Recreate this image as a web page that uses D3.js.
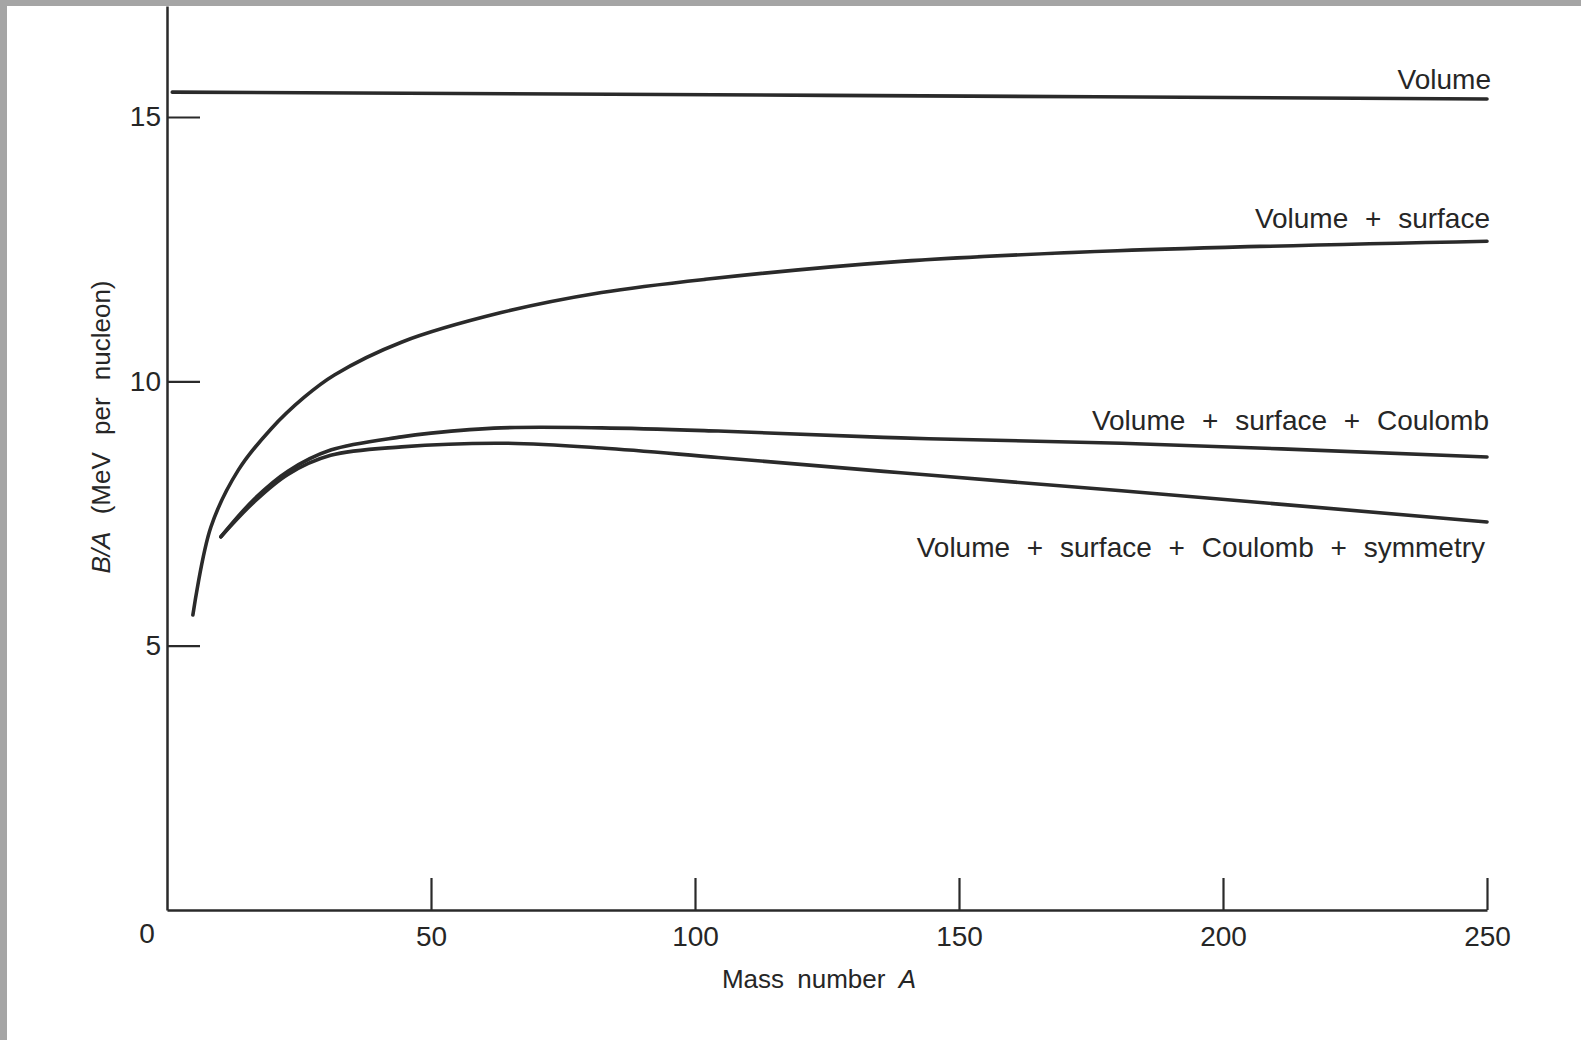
<!DOCTYPE html>
<html><head><meta charset="utf-8">
<script src="https://cdn.jsdelivr.net/npm/d3@7"></script>
<style>
body{margin:0;background:#fff;}
svg{display:block;}
text{font-family:"Liberation Sans",Arial,sans-serif;fill:#262626;}
</style></head><body>
<svg id="chart" width="1581" height="1040"></svg>
<script>
// ---- data ----
const xTickValues = [50, 100, 150, 200, 250];
const yTickValues = [5, 10, 15];

const volumeA = [1, 125, 250];
const volumeB = [15.47, 15.41, 15.34];

const surfaceA = [4.9, 8.3, 13.5, 19.7, 26, 31.7, 44.4, 63.3, 82.3, 102, 139, 180, 250];
const surfaceB = [5.58, 7.24, 8.32, 9.1, 9.7, 10.12, 10.74, 11.3, 11.68, 11.93, 12.27, 12.47, 12.65];

const coulombA = [10.2, 16.5, 22.9, 31, 44.4, 50, 63.3, 82.3, 104.4, 139, 180.8, 250];
const coulombB = [7.06, 7.77, 8.3, 8.7, 8.95, 9.02, 9.12, 9.12, 9.06, 8.93, 8.83, 8.57];

const symmetryA = [10.2, 16.5, 22.9, 31, 44.4, 63.3, 82.3, 104.4, 139, 180.8, 250];
const symmetryB = [7.06, 7.72, 8.24, 8.6, 8.76, 8.83, 8.74, 8.56, 8.27, 7.93, 7.34];

const seriesLabels = [
  "Volume",
  "Volume + surface",
  "Volume + surface + Coulomb",
  "Volume + surface + Coulomb + symmetry"
];
const xTitle = "Mass number ";
const xTitleItalic = "A";
const yTitleItalic = "B/A";
const yTitle = " (MeV per nucleon)";

// ---- drawing ----
const svg = d3.select("#chart");
svg.append("rect").attr("width", 1581).attr("height", 1040).attr("fill", "#fff");

const x = d3.scaleLinear().domain([0, 250]).range([167, 1487]);
const y = d3.scaleLinear().domain([0, 17.1]).range([910, 6]);

const ink = "#2a2a2a";

// axes
const xAxis = d3.axisBottom(x).tickValues(xTickValues).tickSizeInner(-32).tickSizeOuter(0).tickPadding(16);
const gx = svg.append("g").attr("transform", `translate(0,${y(0)})`).call(xAxis);
const yAxis = d3.axisLeft(y).tickValues(yTickValues).tickSizeInner(-33).tickSizeOuter(0).tickPadding(6);
const gy = svg.append("g").attr("transform", `translate(${x(0)},0)`).call(yAxis);

[gx, gy].forEach(g => {
  g.select(".domain").attr("stroke", ink).attr("stroke-width", 2.5);
  g.selectAll(".tick line").attr("stroke", ink).attr("stroke-width", 2.2);
  g.selectAll(".tick text").attr("font-size", 28).attr("fill", "#262626");
});

// origin label
svg.append("text").attr("x", x(0) - 20).attr("y", y(0) + 33)
  .attr("text-anchor", "middle").attr("font-size", 28).text("0");

// curves
const line = d3.line().x(d => x(d[0])).y(d => y(d[1])).curve(d3.curveCatmullRom.alpha(0.5));
const series = [
  d3.zip(volumeA, volumeB),
  d3.zip(surfaceA, surfaceB),
  d3.zip(coulombA, coulombB),
  d3.zip(symmetryA, symmetryB)
];
svg.append("g").selectAll("path").data(series).join("path")
  .attr("d", line).attr("fill", "none").attr("stroke", ink)
  .attr("stroke-width", 3.6).attr("stroke-linecap", "round");

// series labels (offsets from each curve's end)
const labelDy = [-10, -13, -27, 35];
const labelDx = [4, 3, 2, -2];
svg.append("g").selectAll("text").data(series).join("text")
  .attr("x", (d, i) => x(d[d.length - 1][0]) + labelDx[i])
  .attr("y", (d, i) => y(d[d.length - 1][1]) + labelDy[i])
  .attr("text-anchor", "end").attr("font-size", 28)
  .style("word-spacing", "9px")
  .text((d, i) => seriesLabels[i]);

// axis titles
const xt = svg.append("text").attr("x", 819).attr("y", 988)
  .attr("text-anchor", "middle").attr("font-size", 26).style("word-spacing", "6px");
xt.append("tspan").text(xTitle);
xt.append("tspan").attr("font-style", "italic").text(xTitleItalic);

const yt = svg.append("text").attr("transform", "translate(110,427) rotate(-90)")
  .attr("text-anchor", "middle").attr("font-size", 26).style("word-spacing", "10px");
yt.append("tspan").attr("font-style", "italic").text(yTitleItalic);
yt.append("tspan").text(yTitle);

// scan border
svg.append("rect").attr("x", 0).attr("y", 0).attr("width", 1581).attr("height", 6).attr("fill", "#a5a5a5");
svg.append("rect").attr("x", 0).attr("y", 0).attr("width", 7).attr("height", 1040).attr("fill", "#a5a5a5");
</script>
</body></html>
